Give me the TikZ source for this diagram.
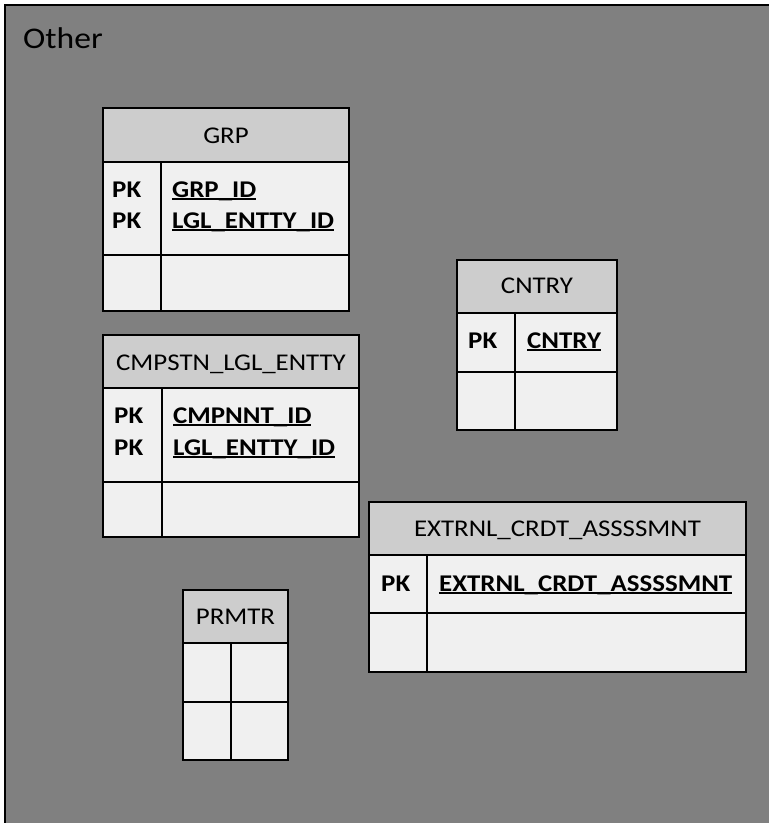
\documentclass[tikz,border=0pt]{standalone}
\usepackage{fontspec}
\setmainfont{Carlito}[FakeStretch=1.12]
\definecolor{bggray}{HTML}{808080}
\definecolor{hdrgray}{HTML}{CDCDCD}
\definecolor{cellgray}{HTML}{F0F0F0}
\newcommand\keyfield[1]{\setbox0\hbox{#1}\rlap{\rule[-2.6pt]{\wd0}{1.5pt}}\box0}
\tikzset{
  box/.style={draw=black, line width=1.6pt, anchor=north west, inner sep=0pt, outer sep=0pt},
  hdrbox/.style={box, fill=hdrgray},
  cellbox/.style={box, fill=cellgray},
  ttl/.style={anchor=base, inner sep=0pt, font=\fontsize{24}{28}\selectfont},
  key/.style={anchor=base west, inner sep=0pt, font=\fontsize{24}{28}\selectfont\bfseries},
}
\begin{document}
\begin{tikzpicture}[x=1pt,y=-1pt]
\useasboundingbox (0,0) rectangle (769,823);
\clip (0,0) rectangle (769,823);
% frame
\node[box, fill=bggray, line width=2pt, minimum width=820pt, minimum height=880pt] (frame) at (5,5) {};
\node[anchor=base west, inner sep=0pt, font=\fontsize{30}{34}\selectfont] (otherlbl) at (23,48) {Other};

% GRP
\node[hdrbox, minimum width=246pt, minimum height=54pt] (grph) at (103,108) {};
\node[cellbox, minimum width=58pt, minimum height=93pt] (grpk1) at (103,162) {};
\node[cellbox, minimum width=188pt, minimum height=93pt] (grpf1) at (161,162) {};
\node[cellbox, minimum width=58pt, minimum height=56pt] (grpk2) at (103,255) {};
\node[cellbox, minimum width=188pt, minimum height=56pt] (grpf2) at (161,255) {};
\node[ttl] (grpt) at (226,143) {GRP};
\node[key] (grpa) at (112,197) {PK};
\node[key] (grpb) at (112,228) {PK};
\node[key] (grpc) at (172,197) {\keyfield{GRP\_ID}};
\node[key] (grpd) at (172,228) {\keyfield{LGL\_ENTTY\_ID}};

% CMPSTN_LGL_ENTTY
\node[hdrbox, minimum width=256pt, minimum height=53pt] (cmph) at (103,335) {};
\node[cellbox, minimum width=59pt, minimum height=94pt] (cmpk1) at (103,388) {};
\node[cellbox, minimum width=197pt, minimum height=94pt] (cmpf1) at (162,388) {};
\node[cellbox, minimum width=59pt, minimum height=55pt] (cmpk2) at (103,482) {};
\node[cellbox, minimum width=197pt, minimum height=55pt] (cmpf2) at (162,482) {};
\node[ttl] (cmpt) at (231,370) {CMPSTN\_LGL\_ENTTY};
\node[key] (cmpa) at (114,423) {PK};
\node[key] (cmpb) at (114,455) {PK};
\node[key] (cmpc) at (173,423) {\keyfield{CMPNNT\_ID}};
\node[key] (cmpd) at (173,455) {\keyfield{LGL\_ENTTY\_ID}};

% CNTRY
\node[hdrbox, minimum width=160pt, minimum height=53pt] (cnth) at (457,260) {};
\node[cellbox, minimum width=58pt, minimum height=59pt] (cntk1) at (457,313) {};
\node[cellbox, minimum width=102pt, minimum height=59pt] (cntf1) at (515,313) {};
\node[cellbox, minimum width=58pt, minimum height=58pt] (cntk2) at (457,372) {};
\node[cellbox, minimum width=102pt, minimum height=58pt] (cntf2) at (515,372) {};
\node[ttl] (cntt) at (537,293) {CNTRY};
\node[key] (cnta) at (468,348) {PK};
\node[key] (cntc) at (527,348) {\keyfield{CNTRY}};

% EXTRNL_CRDT_ASSSSMNT
\node[hdrbox, minimum width=377pt, minimum height=53pt] (exth) at (369,502) {};
\node[cellbox, minimum width=58pt, minimum height=58pt] (extk1) at (369,555) {};
\node[cellbox, minimum width=319pt, minimum height=58pt] (extf1) at (427,555) {};
\node[cellbox, minimum width=58pt, minimum height=59pt] (extk2) at (369,613) {};
\node[cellbox, minimum width=319pt, minimum height=59pt] (extf2) at (427,613) {};
\node[ttl] (extt) at (557.5,536) {EXTRNL\_CRDT\_ASSSSMNT};
\node[key] (exta) at (381,591) {PK};
\node[key] (extc) at (439,591) {\keyfield{EXTRNL\_CRDT\_ASSSSMNT}};

% PRMTR
\node[hdrbox, minimum width=105pt, minimum height=53pt] (prmh) at (183,590) {};
\node[cellbox, minimum width=48pt, minimum height=59pt] (prmk1) at (183,643) {};
\node[cellbox, minimum width=57pt, minimum height=59pt] (prmf1) at (231,643) {};
\node[cellbox, minimum width=48pt, minimum height=58pt] (prmk2) at (183,702) {};
\node[cellbox, minimum width=57pt, minimum height=58pt] (prmf2) at (231,702) {};
\node[ttl] (prmt) at (235.5,624) {PRMTR};
\end{tikzpicture}
\end{document}
